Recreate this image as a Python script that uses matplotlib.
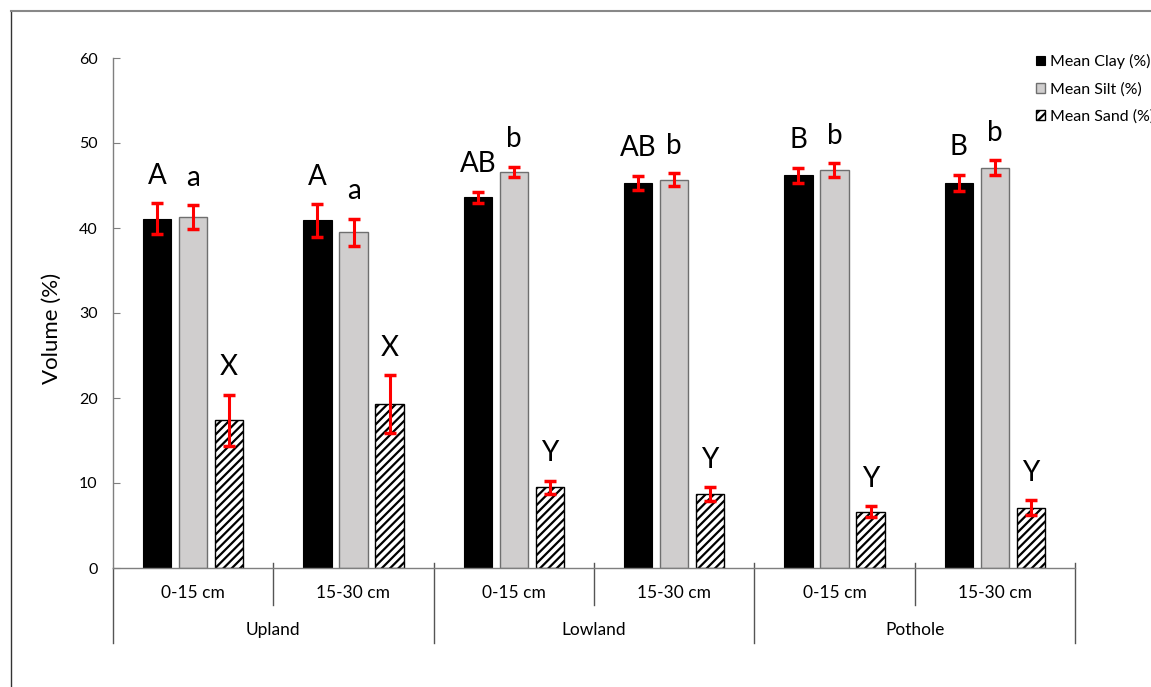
import matplotlib
matplotlib.use("Agg")
import matplotlib.pyplot as plt
from matplotlib.lines import Line2D
import numpy as np

plt.rcParams['font.family'] = ['Lato', 'DejaVu Sans']
plt.rcParams['hatch.linewidth'] = 1.6

depths = ['0-15 cm', '15-30 cm', '0-15 cm', '15-30 cm', '0-15 cm', '15-30 cm']
sites = ['Upland', 'Lowland', 'Pothole']

clay = [41.1, 40.9, 43.6, 45.3, 46.2, 45.3]
clay_err = [1.8, 1.9, 0.65, 0.85, 0.9, 0.95]
silt = [41.3, 39.5, 46.6, 45.7, 46.8, 47.1]
silt_err = [1.4, 1.6, 0.6, 0.75, 0.8, 0.85]
sand = [17.4, 19.3, 9.5, 8.7, 6.6, 7.1]
sand_err = [3.0, 3.4, 0.75, 0.8, 0.65, 0.9]

clay_letters = ['A', 'A', 'AB', 'AB', 'B', 'B']
silt_letters = ['a', 'a', 'b', 'b', 'b', 'b']
sand_letters = ['X', 'X', 'Y', 'Y', 'Y', 'Y']

W, H = 1151, 687
fig = plt.figure(figsize=(W / 100, H / 100), dpi=100)
ax = fig.add_axes([113 / W, 1 - 568 / H, (1075 - 113) / W, (568 - 58) / H])

x = np.arange(len(depths)) + 0.5
bw = 0.175
sp = 0.2246

err_kw = dict(ecolor='red', elinewidth=2.2, capsize=4, capthick=2.5)
b1 = ax.bar(x - sp, clay, bw, color='black', edgecolor='black', linewidth=0.8,
            yerr=clay_err, error_kw=err_kw, label='Mean Clay (%)', zorder=2)
b2 = ax.bar(x, silt, bw, color='#D0CECE', edgecolor='#6f6f6f', linewidth=1.0,
            yerr=silt_err, error_kw=err_kw, label='Mean Silt (%)', zorder=2)
b3 = ax.bar(x + sp, sand, bw, color='white', edgecolor='black', linewidth=1.0,
            hatch='////', yerr=sand_err, error_kw=err_kw, label='Mean Sand (%)', zorder=2)

for vals, errs, labs, off in [(clay, clay_err, clay_letters, -sp),
                              (silt, silt_err, silt_letters, 0),
                              (sand, sand_err, sand_letters, sp)]:
    for xi, v, e, l in zip(x, vals, errs, labs):
        ax.annotate(l, (xi + off, v + e), xytext=(0, 14), textcoords='offset points',
                    ha='center', va='baseline', fontsize=20, color='black')

ax.set_xlim(0, 6)
ax.set_ylim(0, 60)
ax.set_yticks(range(0, 61, 10))
ax.set_xticks([])
ax.tick_params(axis='y', direction='in', length=5, color='#7f7f7f', pad=11, labelsize=11.5)
for s in ['top', 'right']:
    ax.spines[s].set_visible(False)
for s in ['left', 'bottom']:
    ax.spines[s].set_color('#7f7f7f')
    ax.spines[s].set_linewidth(1.0)

ax.set_ylabel('Volume (%)', fontsize=16)
ax.yaxis.set_label_coords(-0.053, 0.47)

tr = ax.get_xaxis_transform()
ax_h = 510.0
y_minor_top = 5 / ax_h
y_minor_bot = -37 / ax_h
y_major_bot = -75 / ax_h
for i in range(1, 6):
    if i % 2 == 1:
        ax.plot([i, i], [y_minor_top, y_minor_bot], transform=tr, color='#555555', lw=1, clip_on=False)
    else:
        ax.plot([i, i], [y_minor_top, y_major_bot], transform=tr, color='#555555', lw=1, clip_on=False)
ax.plot([0, 0], [0, y_major_bot], transform=tr, color='#555555', lw=1, clip_on=False)
ax.plot([6, 6], [y_minor_top, y_major_bot], transform=tr, color='#555555', lw=1, clip_on=False)

for xi, d in zip(x, depths):
    ax.text(xi, -25 / ax_h, d, transform=tr, ha='center', va='center', fontsize=12.5)
for i, s in enumerate(sites):
    ax.text(2 * i + 1, -62 / ax_h, s, transform=tr, ha='center', va='center', fontsize=12.5)

leg = fig.legend(handles=[b1, b2, b3], loc='upper left',
                 bbox_to_anchor=(1036 / W, 1 - 54 / H), frameon=False,
                 fontsize=11.5, handlelength=0.55, handleheight=0.55,
                 handletextpad=0.35, labelspacing=0.82, borderpad=0, borderaxespad=0)

fig.add_artist(Line2D([11 / W, 11 / W], [0, 1 - 11 / H], transform=fig.transFigure, color='#333333', lw=1))
fig.add_artist(Line2D([11 / W, 1], [1 - 11 / H, 1 - 11 / H], transform=fig.transFigure, color='#888888', lw=1.5))

fig.savefig('out.png', dpi=100)
